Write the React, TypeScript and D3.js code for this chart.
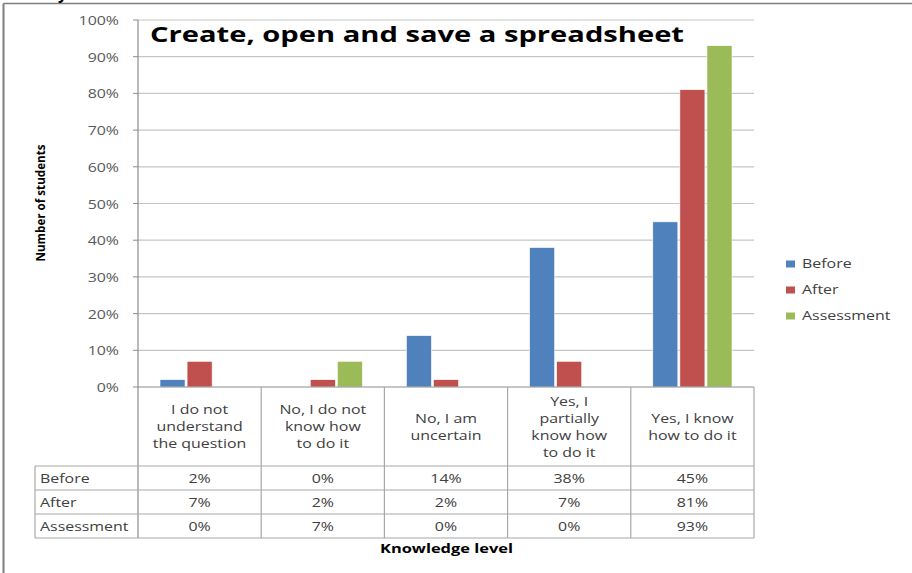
import React from "react";
import * as d3 from "d3";

const categories = [
  "I do not understand the question",
  "No, I do not know how to do it",
  "No, I am uncertain",
  "Yes, I partially know how to do it",
  "Yes, I know how to do it",
];
const categoryLines = [
  ["I do not", "understand", "the question"],
  ["No, I do not", "know how", "to do it"],
  ["No, I am", "uncertain"],
  ["Yes, I", "partially", "know how", "to do it"],
  ["Yes, I know", "how to do it"],
];
const seriesNames = ["Before", "After", "Assessment"];
const before = [2, 0, 14, 38, 45];
const after = [7, 2, 2, 7, 81];
const assessment = [0, 7, 0, 0, 93];
const yTicks = [0, 10, 20, 30, 40, 50, 60, 70, 80, 90, 100];
const colors = ["#4F81BD", "#C0504D", "#9BBB59"];
const title = "Create, open and save a spreadsheet";
const yTitle = "Number of students";
const xTitle = "Knowledge level";

const seriesValues = [before, after, assessment];

const W = 912;
const H = 573;
const left = 138;
const right = 754;
const top = 20;
const bottom = 387;
const tableLeft = 35;
const headerBottom = 466;
const rowH = 24;
const SX = 1.18;
const FONT = "'Open Sans', sans-serif";

function T(props: {
  x: number;
  y: number;
  anchor?: string;
  size?: number;
  weight?: string | number;
  fill?: string;
  children: React.ReactNode;
  length?: number;
}) {
  const { x, y, anchor = "start", size = 14, weight = "normal", fill = "#404040", children, length } = props;
  return (
    <text
      transform={`translate(${x},${y}) scale(${SX},1)`}
      textAnchor={anchor}
      fontSize={size}
      fontWeight={weight}
      fill={fill}
      fontFamily={FONT}
      textLength={length}
      lengthAdjust={length ? "spacingAndGlyphs" : undefined}
    >
      {children}
    </text>
  );
}

export default function App() {
  const x0 = d3.scaleBand<string>().domain(categories).range([left, right]).padding(0);
  const bw = x0.bandwidth();
  const x1 = d3
    .scaleBand<string>()
    .domain(seriesNames)
    .range([22, bw - 22])
    .paddingInner(0.075);
  const y = d3.scaleLinear().domain([0, 100]).range([bottom, top]);

  const gridColor = "#C6C6C6";
  const axisColor = "#8C8C8C";
  const tableColor = "#A8A8A8";

  return (
    <svg
      width={W}
      height={H}
      style={{ position: "absolute", left: 0, top: 0, background: "#fff" }}
    >
      <rect x={0} y={0} width={W} height={H} fill="#fff" />
      {/* outer frame */}
      <line x1={3.5} x2={W} y1={3.5} y2={3.5} stroke="#7F7F7F" strokeWidth={1.5} />
      <line x1={3.5} x2={3.5} y1={3.5} y2={H} stroke="#7F7F7F" strokeWidth={2} />
      <text x={58} y={-1} fontSize={16} fontFamily={FONT} fontWeight="bold" fill="#000">
        y
      </text>

      {/* gridlines */}
      {yTicks.map((t) => (
        <g key={t}>
          {t > 0 && (
            <line x1={left} x2={right} y1={y(t)} y2={y(t)} stroke={gridColor} strokeWidth={1.2} />
          )}
          <line x1={left - 5} x2={left} y1={y(t)} y2={y(t)} stroke={axisColor} strokeWidth={1} />
          <T x={119} y={y(t) + 5} anchor="end" size={13.5} fill="#595959">
            {`${t}%`}
          </T>
        </g>
      ))}

      {/* bars */}
      {categories.map((c, ci) => (
        <g key={c} transform={`translate(${x0(c)},0)`}>
          {seriesNames.map((s, si) => {
            const v = seriesValues[si][ci];
            if (v <= 0) return null;
            return (
              <rect
                key={s}
                x={x1(s)}
                y={y(v)}
                width={x1.bandwidth()}
                height={bottom - y(v)}
                fill={colors[si]}
                stroke="#fff"
                strokeWidth={0.6}
              />
            );
          })}
        </g>
      ))}

      {/* axes */}
      <line x1={left} x2={left} y1={top} y2={headerBottom + rowH * 3} stroke={axisColor} strokeWidth={1.2} />
      <line x1={left} x2={right} y1={bottom} y2={bottom} stroke={axisColor} strokeWidth={1.2} />

      {/* table */}
      {categories.map((c) => (
        <line
          key={"v" + c}
          x1={(x0(c) as number) + bw}
          x2={(x0(c) as number) + bw}
          y1={bottom}
          y2={headerBottom + rowH * 3}
          stroke={tableColor}
          strokeWidth={1.2}
        />
      ))}
      {[0, 1, 2, 3].map((r) => (
        <line
          key={"h" + r}
          x1={tableLeft}
          x2={right}
          y1={headerBottom + r * rowH}
          y2={headerBottom + r * rowH}
          stroke={tableColor}
          strokeWidth={1.2}
        />
      ))}
      <line
        x1={tableLeft}
        x2={tableLeft}
        y1={headerBottom}
        y2={headerBottom + rowH * 3}
        stroke={tableColor}
        strokeWidth={1.2}
      />

      {/* category labels */}
      {categories.map((c, ci) => {
        const lines = categoryLines[ci];
        const cx = (x0(c) as number) + bw / 2;
        const first = 431 - ((lines.length - 1) * 17) / 2;
        return (
          <g key={"l" + c}>
            {lines.map((ln, li) => (
              <T key={li} x={cx} y={first + li * 17} anchor="middle" size={13.5}>
                {ln}
              </T>
            ))}
          </g>
        );
      })}

      {/* table values */}
      {seriesNames.map((s, si) => {
        const by = headerBottom + si * rowH + 16.5;
        return (
          <g key={"r" + s}>
            <T x={40} y={by} size={13.5}>
              {s}
            </T>
            {categories.map((c, ci) => (
              <T key={c} x={(x0(c) as number) + bw / 2} y={by} anchor="middle" size={13.5}>
                {`${seriesValues[si][ci]}%`}
              </T>
            ))}
          </g>
        );
      })}

      {/* legend */}
      {seriesNames.map((s, si) => (
        <g key={"lg" + s}>
          <rect x={786} y={260.5 + si * 26} width={9} height={7} fill={colors[si]} />
          <T x={802} y={268 + si * 26} size={13.5}>
            {s}
          </T>
        </g>
      ))}

      {/* titles */}
      <text
        x={150}
        y={42}
        fontSize={21}
        fontWeight="bold"
        fontFamily={FONT}
        fill="#000"
        textLength={534}
        lengthAdjust="spacingAndGlyphs"
      >
        {title}
      </text>
      <text
        transform={`translate(45,${203}) rotate(-90)`}
        textAnchor="middle"
        fontSize={12.5}
        fontWeight="bold"
        fontFamily={FONT}
        fill="#000"
        textLength={117}
        lengthAdjust="spacingAndGlyphs"
      >
        {yTitle}
      </text>
      <text
        x={446.5}
        y={553}
        textAnchor="middle"
        fontSize={13}
        fontWeight="bold"
        fontFamily={FONT}
        fill="#000"
        textLength={133}
        lengthAdjust="spacingAndGlyphs"
      >
        {xTitle}
      </text>
    </svg>
  );
}
